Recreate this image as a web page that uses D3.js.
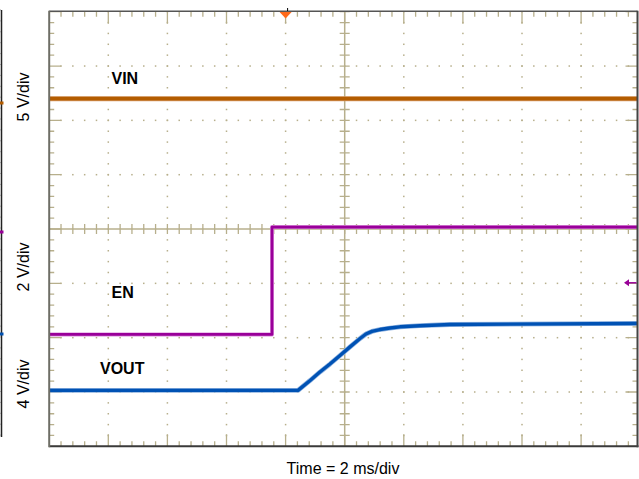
<!DOCTYPE html>
<html>
<head>
<meta charset="utf-8">
<script src="https://cdn.jsdelivr.net/npm/d3@7"></script>
<style>
html,body{margin:0;padding:0;background:#fff;}
svg{display:block;font-family:"Liberation Sans",Arial,Helvetica,sans-serif;}
</style>
</head>
<body>
<svg id="chart" width="639" height="479"></svg>
<script>
// ---- data (time in ms relative to trigger, values in volts) ----
const timeRangeMs = [-8, 12];          // 10 div * 2 ms/div
const vinTime  = [-8, 12];
const vinVolts = [12.0, 12.0];
const enTime   = [-8, -0.46, -0.46, 12];
const enVolts  = [0, 0, 3.95, 3.95];
const voutTime  = [-8, 0.42, 0.83, 1.16, 1.50, 1.84, 2.18, 2.52, 2.72, 2.92, 3.19, 3.53, 3.87, 4.55, 5.56, 12];
const voutVolts = [0, 0, 0.73, 1.35, 1.94, 2.57, 3.20, 3.82, 4.15, 4.34, 4.48, 4.59, 4.68, 4.76, 4.85, 4.93];
const channelNames = ["VIN", "EN", "VOUT"];
const scaleLabels  = ["5 V/div", "2 V/div", "4 V/div"];
const voltsPerDiv  = [5, 2, 4];
const groundDiv    = [0, -1.94, -2.97];   // channel ground position (divisions from centre)
const timeLabel = "Time = 2 ms/div";

// ---- layout ----
const svg = d3.select("#chart");
const L = 49.2, T = 11.7, divW = 59.1, divH = 54.33;
const R = 637.5, B = T + 8 * divH;
const xDiv = d3.scaleLinear().domain([0, 10]).range([L, L + 10 * divW]);
const yDiv = d3.scaleLinear().domain([-4, 4]).range([B, T]);
const x = d3.scaleLinear().domain(timeRangeMs).range([L, L + 10 * divW]);
const yCh = voltsPerDiv.map((v, i) =>
  d3.scaleLinear().domain([(-4 - groundDiv[i]) * v, (4 - groundDiv[i]) * v]).range([B, T]));

const gridCol = "#b7af8c";
const defs = svg.append("defs");
defs.append("clipPath").attr("id", "clip").append("rect")
  .attr("x", L).attr("y", T).attr("width", R - L).attr("height", B - T);

// ---- left cut-off panel remnant ----
const leftP = svg.append("g");
leftP.append("line").attr("x1", 1.5).attr("x2", 1.5).attr("y1", 10).attr("y2", 437)
  .attr("stroke", "#222").attr("stroke-width", 1.5);
d3.range(10, 437, 10.9).forEach(yy => leftP.append("line")
  .attr("x1", 0).attr("x2", 1).attr("y1", yy).attr("y2", yy).attr("stroke", "#999"));
[["#b35c00", 103], ["#990099", 232], ["#0050b0", 334]].forEach(([c, yy]) =>
  leftP.append("rect").attr("x", 0).attr("y", yy - 1.5).attr("width", 3.5).attr("height", 3).attr("fill", c));

// ---- graticule ----
const g = svg.append("g").attr("clip-path", "url(#clip)");
const minorX = d3.range(0, 50 + 1).map(i => i / 5);
const minorY = d3.range(0, 40 + 1).map(i => -4 + i / 5);

// dotted major lines
[1, 2, 3, 4, 6, 7, 8, 9].forEach(d => {
  minorY.forEach(m => g.append("rect").attr("x", xDiv(d) - 0.75).attr("y", yDiv(m) - 0.75)
    .attr("width", 1.5).attr("height", 1.5).attr("fill", gridCol));
});
[-3, -2, -1, 1, 2, 3].forEach(d => {
  minorX.forEach(m => g.append("rect").attr("x", xDiv(m) - 0.75).attr("y", yDiv(d) - 0.75)
    .attr("width", 1.5).attr("height", 1.5).attr("fill", gridCol));
});
// centre lines with ticks
g.append("line").attr("x1", xDiv(5)).attr("x2", xDiv(5)).attr("y1", T).attr("y2", B)
  .attr("stroke", gridCol).attr("stroke-width", 1.5);
g.append("line").attr("x1", L).attr("x2", R).attr("y1", yDiv(0)).attr("y2", yDiv(0))
  .attr("stroke", gridCol).attr("stroke-width", 1.5);
minorY.forEach(m => g.append("line").attr("x1", xDiv(5) - 5).attr("x2", xDiv(5) + 5)
  .attr("y1", yDiv(m)).attr("y2", yDiv(m)).attr("stroke", gridCol).attr("stroke-width", 1.3));
minorX.forEach(m => g.append("line").attr("x1", xDiv(m)).attr("x2", xDiv(m))
  .attr("y1", yDiv(0) - 5).attr("y2", yDiv(0) + 5).attr("stroke", gridCol).attr("stroke-width", 1.3));
// edge ticks
minorX.forEach(m => {
  const len = Math.abs(m - Math.round(m)) < 1e-6 ? 12 : 5;
  g.append("line").attr("x1", xDiv(m)).attr("x2", xDiv(m)).attr("y1", T).attr("y2", T + len)
    .attr("stroke", gridCol).attr("stroke-width", 1.3);
  g.append("line").attr("x1", xDiv(m)).attr("x2", xDiv(m)).attr("y1", B).attr("y2", B - len)
    .attr("stroke", gridCol).attr("stroke-width", 1.3);
});
minorY.forEach(m => {
  const len = Math.abs(m - Math.round(m)) < 1e-6 ? 12 : 5;
  g.append("line").attr("x1", L).attr("x2", L + len).attr("y1", yDiv(m)).attr("y2", yDiv(m))
    .attr("stroke", gridCol).attr("stroke-width", 1.3);
  g.append("line").attr("x1", R).attr("x2", R - len).attr("y1", yDiv(m)).attr("y2", yDiv(m))
    .attr("stroke", gridCol).attr("stroke-width", 1.3);
});

// ---- traces ----
const traces = [
  {t: vinTime, v: vinVolts, ch: 0, col: "#b35c00", halo: "#d9a070", w: 3.6},
  {t: enTime, v: enVolts, ch: 1, col: "#990099", halo: "#d98ad9", w: 2.6},
  {t: voutTime, v: voutVolts, ch: 2, col: "#0052b4", halo: "#8fb3e0", w: 3.4}
];
const tg = svg.append("g").attr("clip-path", "url(#clip)");
traces.forEach(tr => {
  const pts = tr.t.map((t, i) => [t, tr.v[i]]);
  const line = d3.line().x(d => x(d[0])).y(d => yCh[tr.ch](d[1]));
  tg.append("path").attr("d", line(pts)).attr("fill", "none")
    .attr("stroke", tr.halo).attr("stroke-width", tr.w + 1.4).attr("stroke-linejoin", "round");
  tg.append("path").attr("d", line(pts)).attr("fill", "none")
    .attr("stroke", tr.col).attr("stroke-width", tr.w).attr("stroke-linejoin", "round");
});

// ---- frame ----
svg.append("line").attr("x1", L).attr("x2", R).attr("y1", T - 0.5).attr("y2", T - 0.5)
  .attr("stroke", "#555").attr("stroke-width", 1.5);
svg.append("line").attr("x1", L).attr("x2", R + 1).attr("y1", B).attr("y2", B)
  .attr("stroke", "#3a3a3a").attr("stroke-width", 2);
svg.append("line").attr("x1", L).attr("x2", L).attr("y1", T - 1).attr("y2", B + 1)
  .attr("stroke", "#6e6e66").attr("stroke-width", 2);
svg.append("line").attr("x1", R).attr("x2", R).attr("y1", T - 1).attr("y2", B + 1)
  .attr("stroke", "#444").attr("stroke-width", 2);

// trigger position marker
const tx = x(0);
svg.append("line").attr("x1", tx + 2).attr("x2", tx + 2).attr("y1", 8).attr("y2", 11)
  .attr("stroke", "#000").attr("stroke-width", 1);
svg.append("path").attr("d", `M${tx - 6},${T + 0.3} L${tx + 6},${T + 0.3} L${tx},${T + 6.8} Z`)
  .attr("fill", "#ff6a1a");

// trigger level arrow (EN)
const ay = yCh[1](1.9);
svg.append("line").attr("x1", 626).attr("x2", R - 1).attr("y1", ay).attr("y2", ay)
  .attr("stroke", "#990099").attr("stroke-width", 1.5);
svg.append("path").attr("d", `M624,${ay} L629,${ay - 3.5} L629,${ay + 3.5} Z`).attr("fill", "#990099");

// ---- channel labels ----
const labelPos = [[111.5, 84], [111.5, 297.5], [100, 373.5]];
channelNames.forEach((n, i) => svg.append("text").attr("x", labelPos[i][0]).attr("y", labelPos[i][1])
  .attr("font-size", 16).attr("font-weight", "bold").attr("fill", "#000").text(n));

// rotated scale labels
const scaleCentres = [97, 267, 384];
scaleLabels.forEach((s, i) => svg.append("text")
  .attr("transform", `translate(29,${scaleCentres[i]}) rotate(-90)`)
  .attr("text-anchor", "middle").attr("font-size", 16).attr("fill", "#000").text(s));

svg.append("text").attr("x", 343).attr("y", 474).attr("text-anchor", "middle")
  .attr("font-size", 16).attr("fill", "#000").text(timeLabel);
</script>
</body>
</html>
